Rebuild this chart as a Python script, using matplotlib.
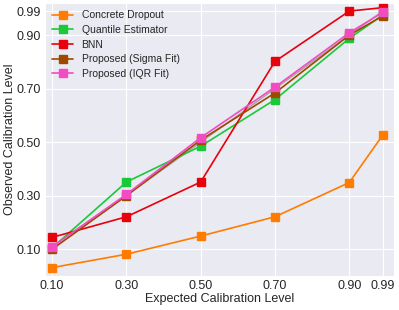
import numpy as np
import matplotlib
matplotlib.use("Agg")
import matplotlib.pyplot as plt
import seaborn as sns

# ---------------------------------------------
# Calibration values
# ---------------------------------------------
levels = [0.10, 0.30, 0.50, 0.70, 0.90, 0.99]
tick_labels = ["0.10", "0.30", "0.50", "0.70", "0.90", "0.99"]

concrete_dropout = [0.031, 0.081, 0.149, 0.221, 0.349, 0.526]
quantile_est     = [0.105, 0.351, 0.485, 0.659, 0.888, 0.975]
bnn              = [0.144, 0.221, 0.351, 0.802, 0.990, 1.003]
sigma_fit        = [0.100, 0.300, 0.508, 0.684, 0.900, 0.972]
iqr_fit          = [0.109, 0.305, 0.517, 0.706, 0.909, 0.985]

series = [
    ("Concrete Dropout", concrete_dropout),
    ("Quantile Estimator", quantile_est),
    ("BNN", bnn),
    ("Proposed (Sigma Fit)", sigma_fit),
    ("Proposed (IQR Fit)", iqr_fit),
]

sns.set_style("darkgrid")
plt.rcParams["font.family"] = ["Liberation Sans", "DejaVu Sans"]
pal = sns.color_palette("bright")
colors = [pal[1], pal[2], pal[3], pal[5], pal[6]]

fig, ax = plt.subplots(figsize=(3.99, 3.10), dpi=100)

# ideal calibration diagonal
ax.plot(levels, levels, color=pal[7], linewidth=1.0, zorder=2)

for (label, vals), c in zip(series, colors):
    ax.plot(levels, vals, color=c, marker="s", markersize=6,
            linewidth=1.2, label=label, zorder=3)

ax.set_xticks(levels)
ax.set_xticklabels(tick_labels)
ax.set_yticks(levels)
ax.set_yticklabels(tick_labels)
ax.set_xlim(0.081, 1.02)
ax.set_ylim(0.0, 1.02)
ax.tick_params(labelsize=9, pad=3, length=0)

ax.set_xlabel("Expected Calibration Level", fontsize=9, labelpad=1)
ax.set_ylabel("Observed Calibration Level", fontsize=9, labelpad=0.5)

ax.legend(loc="upper left", frameon=False, fontsize=7.5,
          handlelength=2.0, borderaxespad=0.3, labelspacing=0.45)

plt.subplots_adjust(left=0.113, right=0.987, top=0.99, bottom=0.11)
plt.savefig("out.png", dpi=100)
